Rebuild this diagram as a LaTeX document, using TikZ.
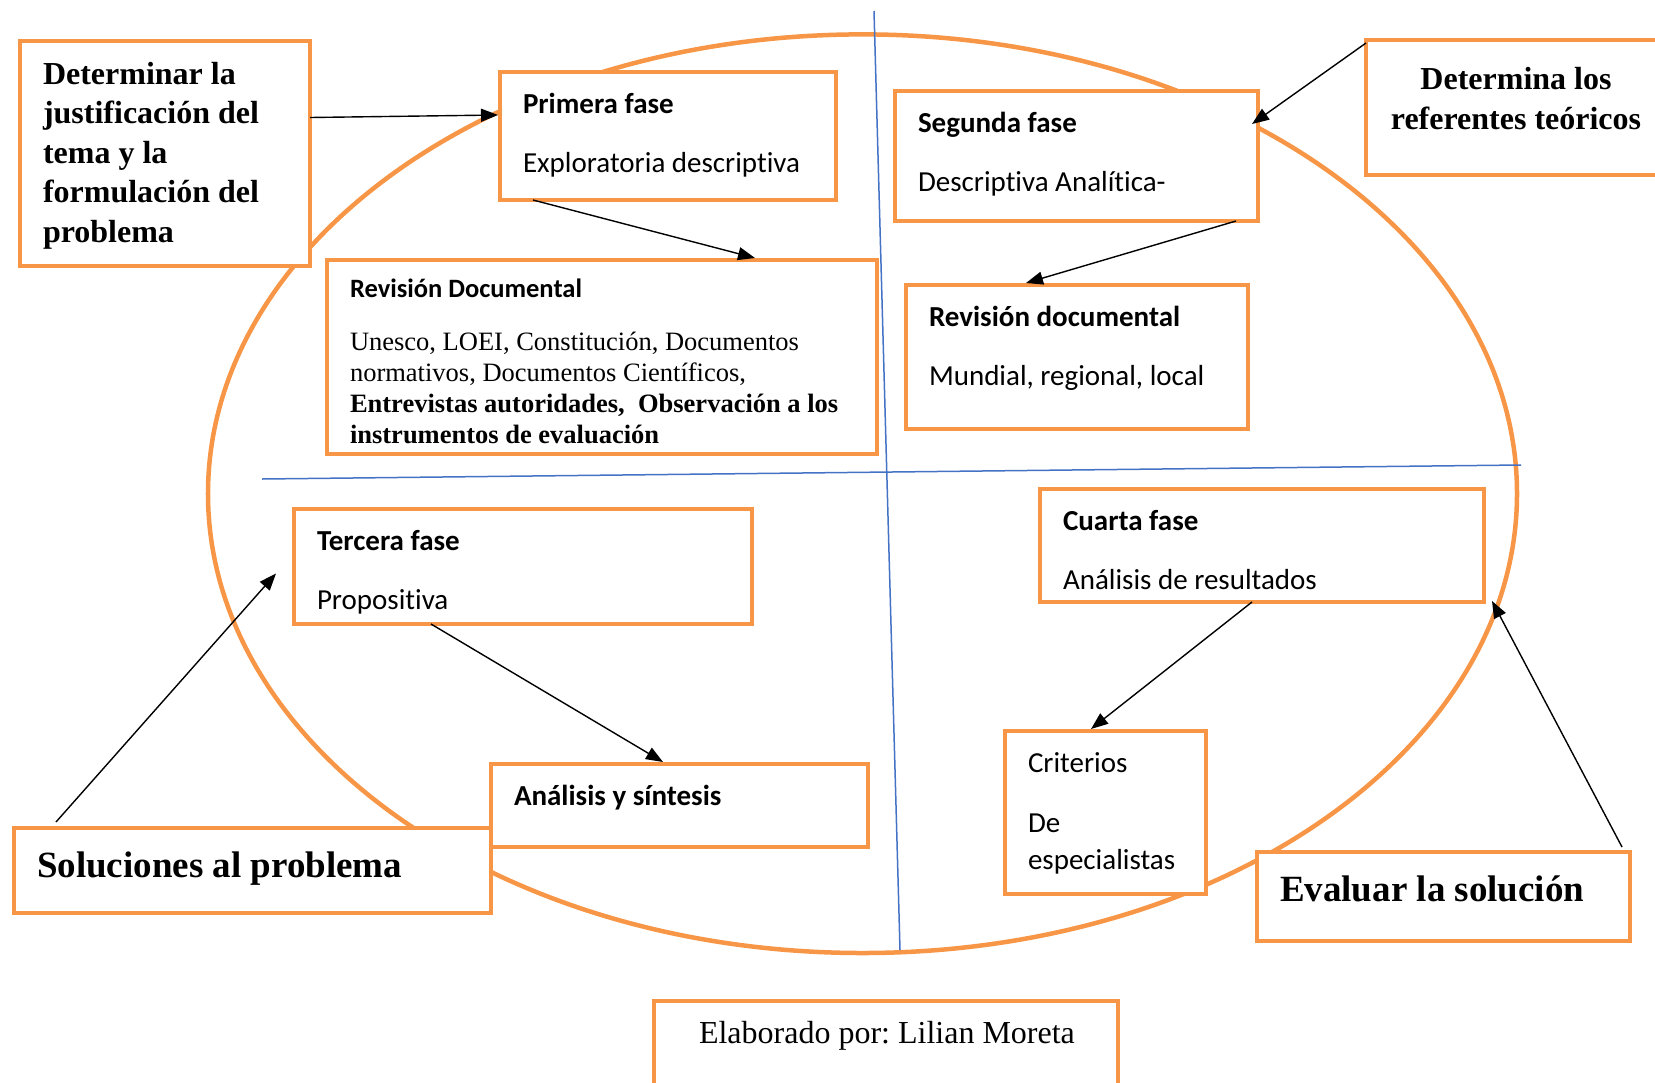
\documentclass[tikz,border=0pt]{standalone}
\usepackage{fontspec}
\setmainfont{Liberation Serif}
\newfontfamily\calibri[Ligatures=NoCommon]{Carlito}
\usepackage{xcolor}
\usetikzlibrary{arrows.meta}
\definecolor{naranja}{HTML}{F79646}
\definecolor{azul}{HTML}{4472C4}
\frenchspacing
\newcommand{\contenido}[3]{\parbox[c][#2][t]{#1}{\raggedright\strut #3}}
\tikzset{
    caja/.style={draw=naranja, line width=4.5bp, fill=white, anchor=north west, outer sep=0pt, inner xsep=23bp, inner ysep=16bp}, % cajas naranjas
    fase/.style={caja, font=\calibri\fontsize{29bp}{37bp}\selectfont}, % texto de las fases
    tema/.style={caja, inner ysep=15.5bp, font=\bfseries\fontsize{32bp}{39.5bp}\selectfont},
    grande/.style={caja, inner ysep=14bp, font=\bfseries\fontsize{37bp}{50bp}\selectfont},
    flecha/.style={-{Triangle[length=17bp, width=13bp]}, line width=1.4bp},
    linea/.style={azul, line width=1.5bp},
}

\begin{document}
\begin{tikzpicture}[x=1bp, y=-1bp]
        \useasboundingbox (0,0) rectangle (1655,1082);
        % Elipse y ejes
        \draw[naranja, line width=4.5bp] (862.5,493.7) ellipse [x radius=654.5bp, y radius=459.3bp];
        \draw[linea] (874,11) -- (900,950);
        \draw[linea] (262,479) -- (1521,465);

        % Cajas
        \node[tema] (det) at (20,41) {\contenido{244bp}{194bp}{Determinar la\\ justificación del\\ tema y la\\ formulación del\\ problema}};
        \node[fase] (pri) at (500,72) {\contenido{290bp}{96bp}{\textbf{Primera fase}\\[22bp] Exploratoria descriptiva}};
        \node[caja, font=\calibri\fontsize{26.5bp}{31bp}\selectfont] (revd) at (327,260) {\contenido{504bp}{162bp}{\textbf{Revisión Documental}\\[22bp] \rmfamily Unesco, LOEI, Constitución, Documentos\\ normativos, Documentos Científicos,\\ \textbf{Entrevistas autoridades,\ \ Observación a los}\\ \textbf{instrumentos de evaluación}}};
        \node[fase] (seg) at (895,91) {\contenido{317bp}{98bp}{\textbf{Segunda fase}\\[22bp] Descriptiva Analítica-}};
        \node[tema, inner ysep=22bp] (ref) at (1366,40) {\parbox[c][91bp][t]{254bp}{\centering\strut Determina los\\ referentes teóricos}};
        \node[fase] (rev2) at (906,285) {\contenido{296bp}{112bp}{\textbf{Revisión documental}\\[22bp] Mundial, regional, local}};
        \node[fase] (ter) at (294,509) {\contenido{412bp}{83bp}{\textbf{Tercera fase}\\[22bp] Propositiva}};
        \node[fase] (ana) at (491,764) {\contenido{331bp}{51bp}{\textbf{Análisis y síntesis}}};
        \node[grande] (sol) at (14,828) {\contenido{431bp}{57bp}{Soluciones al problema}};
        \node[fase] (cua) at (1040,489) {\contenido{398bp}{81bp}{\textbf{Cuarta fase}\\[22bp] Análisis de resultados}};
        \node[fase] (cri) at (1005,731) {\contenido{155bp}{131bp}{Criterios\\[23bp] De\\ especialistas}};
        \node[grande] (eva) at (1257,852) {\contenido{327bp}{61bp}{Evaluar la solución}};
        \node[caja, inner ysep=14bp, font=\fontsize{32bp}{40bp}\selectfont] (elab) at (654,1001) {\contenido{418bp}{67bp}{\hspace*{22bp}Elaborado por: Lilian Moreta}};

        % Flechas
        \path[flecha]
        ([yshift=36bp]det.east) edge ([xshift=-2bp, yshift=21bp]pri.west)
        ([xshift=33bp]pri.south west) edge ([xshift=428bp, yshift=2bp]revd.north west)
        ([yshift=-3bp]ref.north west) edge ([xshift=-6bp, yshift=32bp]seg.east)
        ([xshift=-22bp]seg.south east) edge ([xshift=120bp, yshift=2bp]rev2.north west)
        ([xshift=42bp, yshift=6bp]sol.north west) edge ([xshift=-18bp, yshift=-7bp]ter.west)
        ([xshift=137bp]ter.south west) edge ([xshift=172bp, yshift=2bp]ana.north west)
        ([xshift=212bp]cua.south west) edge ([xshift=86bp, yshift=2bp]cri.north west)
        ([xshift=-8bp, yshift=5bp]eva.north east) edge ([xshift=8bp, yshift=1bp]cua.south east);
\end{tikzpicture}
\end{document}
